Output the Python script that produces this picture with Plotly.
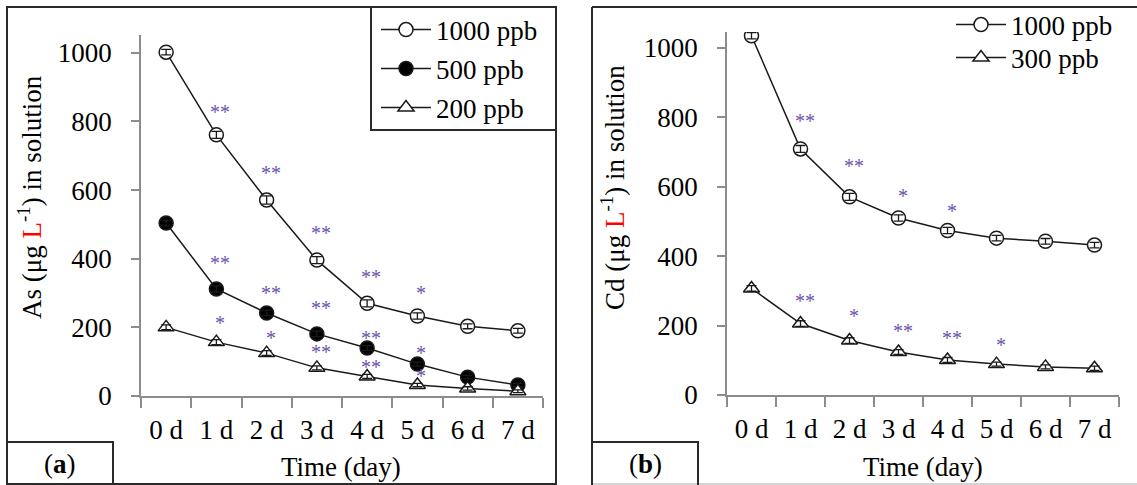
import plotly.graph_objects as go

W = 1137
H = 500      # figure height; the page snapshot is scaled to 485 px tall
REF_H = 485  # reference picture height used for layout fractions

days = ["0 d", "1 d", "2 d", "3 d", "4 d", "5 d", "6 d", "7 d"]

# Panel (a): As
as_1000 = [1002, 761, 571, 396, 270, 233, 203, 190]
as_500 = [504, 312, 242, 181, 140, 93, 55, 32]
as_200 = [200, 157, 125, 82, 57, 32, 22, 14]
as_1000_err = [8, 10, 12, 10, 10, 9, 7, 7]
as_500_err = [8, 9, 8, 8, 7, 6, 5, 5]
as_200_err = [7, 7, 7, 6, 6, 5, 5, 4]

# Panel (b): Cd
cd_1000 = [1035, 709, 571, 510, 474, 452, 443, 432]
cd_300 = [307, 206, 157, 124, 101, 89, 81, 77]
cd_1000_err = [9, 10, 10, 9, 9, 8, 8, 8]
cd_300_err = [8, 8, 8, 7, 7, 6, 6, 6]

# Significance marks
sig_a_x = ["1 d", "1 d", "1 d", "2 d", "2 d", "2 d", "3 d", "3 d", "3 d",
           "4 d", "4 d", "4 d", "5 d", "5 d", "5 d"]
sig_a_y = [840, 399, 224, 662, 312, 181, 487, 268, 140,
           359, 181, 96, 312, 137, 70]
sig_a_t = ["**", "**", "*", "**", "**", "*", "**", "**", "**",
           "**", "**", "**", "*", "*", "*"]

sig_b_x = ["1 d", "2 d", "3 d", "4 d", "1 d", "2 d", "3 d", "4 d", "5 d"]
sig_b_y = [800, 670, 584, 541, 282, 239, 196, 176, 155]
sig_b_t = ["**", "**", "*", "*", "**", "*", "**", "**", "*"]

FONT = "Liberation Serif"
FS = 27
STAR_COLOR = "#6b52a8"
AXIS_COLOR = "#8c8c8c"


def px(x):
    return x / W


def py(y):
    return 1 - y / REF_H


fig = go.Figure()


def add_series(xa, ya, vals, errs, name, symbol, fill, legend):
    fig.add_trace(go.Scatter(
        x=days, y=vals, mode="lines+markers", name=name,
        xaxis=xa, yaxis=ya, legend=legend,
        line=dict(color="#1a1a1a", width=1.5),
        marker=dict(symbol=symbol, size=14, color=fill,
                    line=dict(color="#1a1a1a", width=1.5)),
    ))
    fig.add_trace(go.Scatter(
        x=days, y=vals, mode="markers", showlegend=False,
        xaxis=xa, yaxis=ya, hoverinfo="skip",
        marker=dict(size=1, color="rgba(0,0,0,0)"),
        error_y=dict(type="data", array=errs, visible=True,
                     color="#1a1a1a", thickness=1.3, width=5),
    ))


add_series("x", "y", as_1000, as_1000_err, "1000 ppb", "circle", "white", "legend")
add_series("x", "y", as_500, as_500_err, "500 ppb", "circle", "black", "legend2")
add_series("x", "y", as_200, as_200_err, "200 ppb", "triangle-up", "white", "legend3")
add_series("x2", "y2", cd_1000, cd_1000_err, "1000 ppb", "circle", "white", "legend4")
add_series("x2", "y2", cd_300, cd_300_err, "300 ppb", "triangle-up", "white", "legend5")

annotations = []
for xv, yv, tv in zip(sig_a_x, sig_a_y, sig_a_t):
    annotations.append(dict(x=xv, y=yv, xref="x", yref="y", text=tv,
                            showarrow=False, xshift=4, yshift=-4,
                            xanchor="center", yanchor="middle",
                            font=dict(family=FONT, size=20, color=STAR_COLOR)))
for xv, yv, tv in zip(sig_b_x, sig_b_y, sig_b_t):
    annotations.append(dict(x=xv, y=yv, xref="x2", yref="y2", text=tv,
                            showarrow=False, xshift=4, yshift=-4,
                            xanchor="center", yanchor="middle",
                            font=dict(family=FONT, size=20, color=STAR_COLOR)))

ylab_a = "As (μg <span style='color:#ff0000'>L</span><sup>-1</sup>) in solution"
ylab_b = "Cd (μg <span style='color:#ff0000'>L</span><sup>-1</sup>) in solution"


def label(xp, yp, text, angle=0):
    return dict(x=px(xp), y=py(yp), xref="paper", yref="paper", text=text,
                textangle=angle, showarrow=False, xanchor="center", yanchor="middle",
                font=dict(family=FONT, size=FS, color="black"))


annotations += [
    label(30, 197, ylab_a, -90),
    label(613, 188, ylab_b, -90),
    label(341, 467, "Time (day)"),
    label(923, 467, "Time (day)"),
    label(60, 464, "(<b>a</b>)"),
    label(645, 464, "(<b>b</b>)"),
]

BORDER = "#2a2a2a"
shapes = [
    dict(type="rect", xref="paper", yref="paper", x0=px(7), x1=px(556),
         y0=py(484), y1=py(7), line=dict(color=BORDER, width=2)),
    dict(type="line", xref="paper", yref="paper", x0=px(592), x1=px(1140),
         y0=py(7), y1=py(7), line=dict(color=BORDER, width=2)),
    dict(type="line", xref="paper", yref="paper", x0=px(592), x1=px(592),
         y0=py(7), y1=py(486), line=dict(color=BORDER, width=2)),
    dict(type="line", xref="paper", yref="paper", x0=px(592), x1=px(1140),
         y0=py(484), y1=py(484), line=dict(color="#aaaaaa", width=1)),
    dict(type="rect", xref="paper", yref="paper", x0=px(7), x1=px(113),
         y0=py(486), y1=py(442), line=dict(color=BORDER, width=2)),
    dict(type="rect", xref="paper", yref="paper", x0=px(592), x1=px(698),
         y0=py(486), y1=py(442), line=dict(color=BORDER, width=2)),
    dict(type="rect", xref="paper", yref="paper", x0=px(371), x1=px(556),
         y0=py(130), y1=py(7), line=dict(color=BORDER, width=2)),
]

xaxis_common = dict(type="category", tickson="boundaries", ticks="outside",
                    ticklen=10, tickwidth=1.5, tickcolor=AXIS_COLOR,
                    showline=True, linecolor=AXIS_COLOR, linewidth=1.5,
                    showgrid=False, zeroline=False, ticklabelstandoff=9,
                    tickfont=dict(family=FONT, size=FS, color="black"),
                    range=[-0.5, 7.5], fixedrange=True)
yaxis_common = dict(ticks="outside", ticklen=8, tickwidth=1.5, tickcolor=AXIS_COLOR,
                    showline=True, linecolor=AXIS_COLOR, linewidth=1.5,
                    showgrid=False, zeroline=False, dtick=200, tick0=0,
                    ticklabelstandoff=14,
                    tickfont=dict(family=FONT, size=FS, color="black"))

legend_common = dict(font=dict(family=FONT, size=FS, color="black"),
                     bgcolor="rgba(0,0,0,0)", borderwidth=0,
                     xanchor="left", yanchor="middle", itemwidth=50,
                     tracegroupgap=0)

fig.update_layout(
    width=W, height=H, autosize=False,
    margin=dict(l=0, r=0, t=0, b=0),
    paper_bgcolor="white", plot_bgcolor="white",
    xaxis=dict(domain=[px(141), px(543)], anchor="y", **xaxis_common),
    yaxis=dict(domain=[py(396), py(35)], anchor="x", range=[0, 1052], **yaxis_common),
    xaxis2=dict(domain=[px(727), px(1119)], anchor="y2", **xaxis_common),
    yaxis2=dict(domain=[py(395), py(32)], anchor="x2", range=[0, 1046], **yaxis_common),
    legend=dict(x=px(376), y=py(30), **legend_common),
    legend2=dict(x=px(376), y=py(69), **legend_common),
    legend3=dict(x=px(376), y=py(108), **legend_common),
    legend4=dict(x=px(951), y=py(25), **legend_common),
    legend5=dict(x=px(951), y=py(58), **legend_common),
    annotations=annotations,
    shapes=shapes,
    showlegend=True,
)

fig.write_html("out.html", config={"responsive": False, "displayModeBar": False})
